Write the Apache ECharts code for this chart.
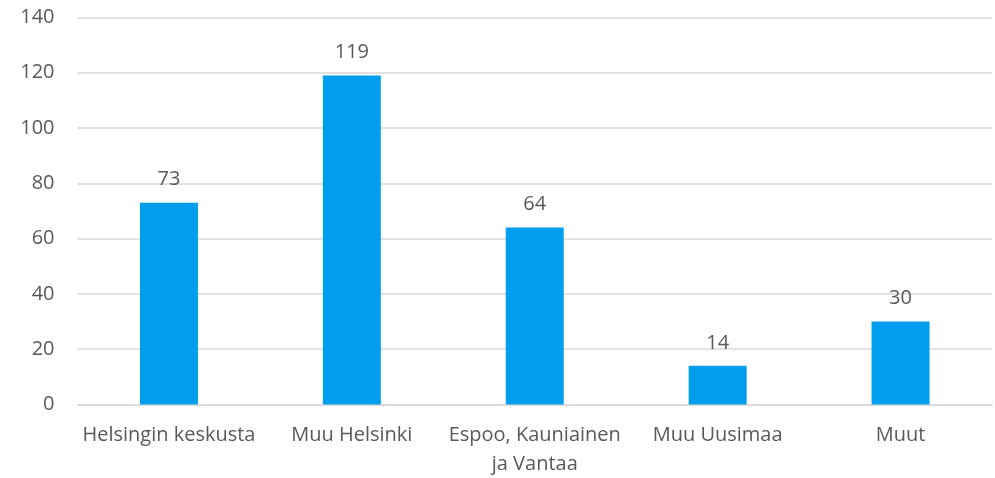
<!DOCTYPE html>
<html>
<head>
<meta charset="utf-8">
<script src="https://cdn.jsdelivr.net/npm/echarts@6/dist/echarts.min.js"></script>
<style>
  html, body { margin: 0; padding: 0; background: #fff; }
  #chart { width: 995px; height: 478px; }
</style>
</head>
<body>
<div id="chart"></div>
<script>
// Regions and their counts
const categories = ['Helsingin keskusta', 'Muu Helsinki', 'Espoo, Kauniainen\nja Vantaa', 'Muu Uusimaa', 'Muut'];
const values = [73, 119, 64, 14, 30];
const yTicks = { min: 0, max: 140, interval: 20 };

const textColor = '#595959';
const fontFamily = '"Open Sans", "Liberation Sans", sans-serif';

const chart = echarts.init(document.getElementById('chart'));
chart.setOption({
  animation: false,
  grid: { left: 77.5, right: 3, top: 17.5, bottom: 73.5, containLabel: false, outerBoundsMode: 'none' },
  xAxis: {
    type: 'category',
    data: categories,
    axisLine: { lineStyle: { color: '#d9d9d9', width: 1.5 } },
    axisTick: { show: false },
    axisLabel: {
      color: textColor, fontFamily, fontSize: 20, margin: 16.5, lineHeight: 29, interval: 0
    }
  },
  yAxis: {
    type: 'value',
    min: yTicks.min, max: yTicks.max, interval: yTicks.interval,
    axisLine: { show: false },
    axisTick: { show: false },
    splitLine: { lineStyle: { color: '#d9d9d9', width: 1.5 } },
    axisLabel: { color: textColor, fontFamily, fontSize: 20, margin: 23 }
  },
  series: [{
    type: 'bar',
    data: values,
    barWidth: '31.7%',
    itemStyle: { color: '#009EEC' },
    label: {
      show: true, position: 'top', distance: 13,
      color: textColor, fontFamily, fontSize: 20
    }
  }]
});
</script>
</body>
</html>
